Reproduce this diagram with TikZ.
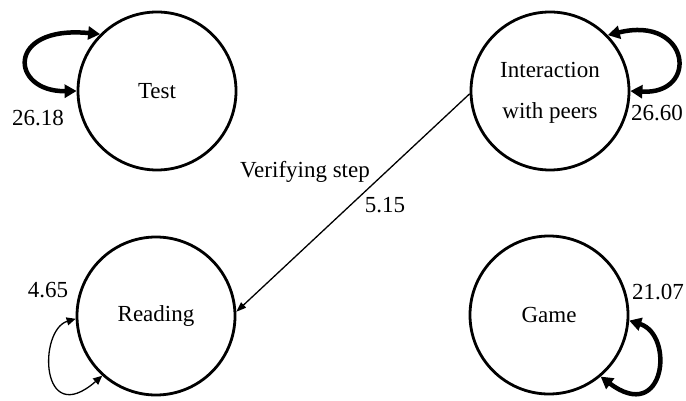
\documentclass[tikz,border=0pt]{standalone}
\usepackage{fontspec}
\setmainfont{Liberation Serif}
\usetikzlibrary{arrows.meta}
\begin{document}
\begin{tikzpicture}[x=1pt,y=-1pt,
  state/.style={circle, draw, line width=2.8pt, minimum size=158pt, inner sep=0pt,
    align=center, font=\fontsize{23pt}{41pt}\selectfont},
  lbl/.style={font=\fontsize{23pt}{28pt}\selectfont, inner sep=0pt},
  heavyloop/.style={line width=4.5pt, {Triangle[length=12pt,width=13pt]}-{Triangle[length=12pt,width=13pt]}},
  lightloop/.style={line width=1.3pt, {Triangle[length=9pt,width=8pt]}-{Triangle[length=9pt,width=8pt]}},
  trans/.style={line width=1.3pt, -{Triangle[length=10pt,width=7pt]}}]
\useasboundingbox (0,0) rectangle (686,401);

% states
\node[state] (T) at (157,91) {Test};
\node[state] (I) at (550,91) {};
\node[lbl, align=center, font=\fontsize{23pt}{41pt}\selectfont] (Itext) at (550,93) {Interaction\\with peers};
\node[state] (R) at (156,316) {Reading};
\node[state] (G) at (549,315) {Game};

% self loops
\draw[heavyloop] (T.135) .. controls (5,25) and (10,92) .. (T.180);
\draw[heavyloop] (I.44) .. controls (690,15) and (700,95) .. (I.0);
\draw[lightloop] (R.182) .. controls (38,330) and (40,430) .. (R.228);
\draw[heavyloop] (G.-4) .. controls (675,335) and (665,425) .. (G.-50);

% transition
\draw[trans] (I.182) -- (R.3);

% labels
\node[lbl] at (38,118) {26.18};
\node[lbl] at (657,113) {26.60};
\node[lbl] at (48,290) {4.65};
\node[lbl] at (658,292) {21.07};
\node[lbl] at (305,172) {Verifying step};
\node[lbl] at (385,205) {5.15};
\end{tikzpicture}
\end{document}
